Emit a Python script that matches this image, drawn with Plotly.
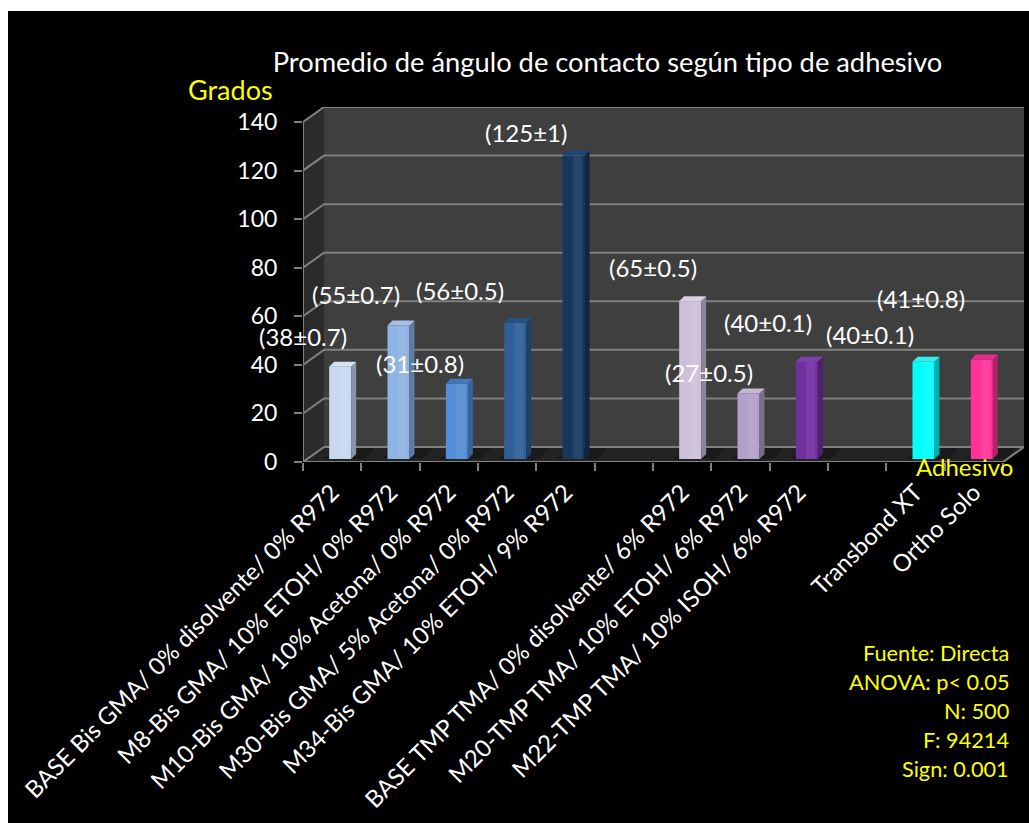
import plotly.graph_objects as go

# Contact angle per adhesive; slots 6 and 10 stay empty to separate the groups
categories = [
    "BASE Bis GMA/ 0% disolvente/ 0% R972",
    "M8-Bis GMA/ 10% ETOH/ 0% R972",
    "M10-Bis GMA/ 10% Acetona/ 0% R972",
    "M30-Bis GMA/ 5% Acetona/ 0% R972",
    "M34-Bis GMA/ 10% ETOH/ 9% R972",
    " ",
    "BASE TMP TMA/ 0% disolvente/ 6% R972",
    "M20-TMP TMA/ 10% ETOH/ 6% R972",
    "M22-TMP TMA/ 10% ISOH/ 6% R972",
    "  ",
    "Transbond XT",
    "Ortho Solo",
]
values = [38, 55, 31, 56, 125, None, 65, 27, 40, None, 40, 41]
errors = ["0.7", "0.7", "0.8", "0.5", "1", None, "0.5", "0.5", "0.1", None, "0.1", "0.8"]
front_colors = ["#C6D9F1", "#8DB4E2", "#538DD5", "#2F5F96", "#17375E", None,
                "#CCC0DA", "#B1A0C7", "#7030A0", None, "#00FFFF", "#FF3399"]
side_colors = ["#8996A8", "#5F7CA3", "#3A6296", "#204268", "#0F2541", None,
               "#8D8597", "#7A6E8B", "#4D216F", None, "#00B0B0", "#B0236A"]
top_colors = ["#D5E2F4", "#A3C2E8", "#4477BE", "#275080", "#1F4575", None,
              "#D8CFE3", "#C3B6D3", "#8040B0", None, "#33EFEF", "#E62B8A"]
y_ticks = [0, 20, 40, 60, 80, 100, 120, 140]

# Label centres in figure pixels, in slot order of the bars that have values
label_px = [(303, 337), (356, 294), (420, 363), (460, 290), (526, 133),
            (653, 268), (709, 372), (768, 323), (870, 334), (921, 299)]
source_notes = ["Fuente: Directa", "ANOVA: p< 0.05", "N: 500", "F: 94214", "Sign: 0.001"]

W, H = 1029, 823
LEFT, RIGHT, BOTTOM, TOP = 303, 1024, 462, 107
SLOTS = 12
YMAX = 140
DEPTH_X = 21 / 58.33        # back wall offset in slot units
DEPTH_Y = 15 / 2.4286       # back wall offset in degrees
BAR_W = 22 / 58.33
BAR_SHIFT_X = 8 / 58.33
BAR_LIFT = 3 / 2.4286
SIDE_X = 5 / 58.33
SIDE_Y = 5 / 2.4286
GRID = "#808080"


def fx(px):
    return px / W


def fy(py):
    return 1 - py / H


def path(points):
    return "M " + " L ".join(f"{x},{y}" for x, y in points) + " Z"


def data_shape(points, fill, line=None, width=0):
    return dict(type="path", xref="x", yref="y", layer="below", path=path(points),
                fillcolor=fill, line=dict(color=line or fill, width=width))


def data_line(points):
    d = "M " + " L ".join(f"{x},{y}" for x, y in points)
    return dict(type="path", xref="x", yref="y", layer="below", path=d,
                line=dict(color=GRID, width=2))


slot_centers = [i + 0.5 for i in range(SLOTS)]
centers = [s + BAR_SHIFT_X for s in slot_centers]

shapes = [
    dict(type="rect", xref="paper", yref="paper", layer="below",
         x0=fx(8), x1=1, y0=0, y1=fy(11), fillcolor="#000000", line=dict(width=0)),
    # Left wall, back wall and floor of the box
    data_shape([(0, 0), (DEPTH_X, DEPTH_Y), (DEPTH_X, YMAX + DEPTH_Y), (0, YMAX)], "#2B2B2B"),
    data_shape([(DEPTH_X, DEPTH_Y), (SLOTS + DEPTH_X, DEPTH_Y),
                (SLOTS + DEPTH_X, YMAX + DEPTH_Y), (DEPTH_X, YMAX + DEPTH_Y)], "#3F3F3F"),
    data_shape([(0, 0), (DEPTH_X, DEPTH_Y), (SLOTS + DEPTH_X, DEPTH_Y), (SLOTS, 0)], "#232323"),
]

# Soft contact shadows on the floor
for c, v in zip(centers, values):
    if v is None:
        continue
    shapes.append(data_shape([(c - 0.3, BAR_LIFT), (c - 0.02, DEPTH_Y), (c + 0.6, DEPTH_Y),
                              (c + 0.42, BAR_LIFT)], "#1A1A1A"))

for t in y_ticks:
    shapes.append(data_line([(0, t), (DEPTH_X, t + DEPTH_Y), (SLOTS + DEPTH_X, t + DEPTH_Y)]))
shapes.append(data_line([(0, 0), (0, YMAX)]))
shapes.append(data_line([(SLOTS, 0), (0, 0)]))
shapes.append(data_line([(SLOTS, 0), (SLOTS + DEPTH_X, DEPTH_Y)]))

fig = go.Figure()
fig.add_trace(go.Bar(
    x=centers, y=values, base=BAR_LIFT, width=BAR_W,
    marker=dict(color=[c or "rgba(0,0,0,0)" for c in front_colors], line=dict(width=0)),
    hoverinfo="skip", showlegend=False,
))
# Lighter strip along the right part of each front face
fig.add_trace(go.Bar(
    x=[c + BAR_W * 0.18 for c in centers], y=values, base=BAR_LIFT, width=BAR_W * 0.42,
    marker=dict(color="rgba(255,255,255,0.07)", line=dict(width=0)),
    hoverinfo="skip", showlegend=False,
))

# Side and top faces of each bar, extruded from its value
for c, v, side, top in zip(centers, values, side_colors, top_colors):
    if v is None:
        continue
    right = c + BAR_W / 2
    left = c - BAR_W / 2
    height = v + BAR_LIFT
    fig.add_trace(go.Scatter(
        x=[right, right + SIDE_X, right + SIDE_X, right],
        y=[BAR_LIFT, BAR_LIFT + SIDE_Y, height + SIDE_Y, height],
        mode="lines", fill="toself", fillcolor=side, line=dict(width=0, color=side),
        hoverinfo="skip", showlegend=False, cliponaxis=False,
    ))
    fig.add_trace(go.Scatter(
        x=[left, left + SIDE_X, right + SIDE_X, right],
        y=[height, height + SIDE_Y, height + SIDE_Y, height],
        mode="lines", fill="toself", fillcolor=top, line=dict(width=0, color=top),
        hoverinfo="skip", showlegend=False, cliponaxis=False,
    ))

annotations = []
pairs = [(v, e) for v, e in zip(values, errors) if v is not None]
for (v, e), (px, py) in zip(pairs, label_px):
    annotations.append(dict(
        text=f"({v}±{e})", xref="paper", yref="paper", x=fx(px), y=fy(py),
        xanchor="center", yanchor="middle", showarrow=False,
        font=dict(family="Lato", size=24, color="#FFFFFF"),
    ))

annotations.append(dict(text="Grados", xref="paper", yref="paper", x=fx(230), y=fy(90),
                        xanchor="center", yanchor="middle", showarrow=False,
                        font=dict(family="Lato", size=27, color="#FFFF00")))
annotations.append(dict(text="Adhesivo", xref="paper", yref="paper", x=fx(964), y=fy(466),
                        xanchor="center", yanchor="middle", showarrow=False,
                        font=dict(family="Lato", size=24, color="#FFFF00")))
for i, note in enumerate(source_notes):
    annotations.append(dict(text=note, xref="paper", yref="paper", x=fx(1011), y=fy(653 + 29 * i),
                            xanchor="right", yanchor="middle", showarrow=False,
                            font=dict(family="Lato", size=21.7, color="#FFFF00")))

fig.update_layout(
    width=W, height=H, autosize=False,
    margin=dict(l=0, r=0, t=0, b=0, autoexpand=False),
    paper_bgcolor="#FFFFFF", plot_bgcolor="rgba(0,0,0,0)",
    title=dict(text="Promedio de ángulo de contacto según tipo de adhesivo",
               x=607.5 / W, y=fy(62), xanchor="center", yanchor="middle", xref="paper", yref="paper",
               font=dict(family="Lato", size=27.3, color="#FFFFFF")),
    shapes=shapes, annotations=annotations, showlegend=False, barmode="overlay",
    xaxis=dict(
        automargin=False,
        domain=[fx(LEFT), fx(RIGHT)], range=[0, SLOTS + DEPTH_X], showgrid=False, zeroline=False,
        tickmode="array", tickvals=slot_centers, ticktext=categories,
        tickangle=-45, ticks="", ticklabelstandoff=11,
        tickfont=dict(family="Lato", size=23.8, color="#FFFFFF"),
        minor=dict(ticks="outside", tickmode="array", tickvals=list(range(SLOTS + 1)),
                   ticklen=8, tickwidth=2, tickcolor=GRID, showgrid=False),
    ),
    yaxis=dict(
        automargin=False,
        domain=[fy(BOTTOM), fy(TOP)], range=[0, YMAX + DEPTH_Y], showgrid=False, zeroline=False,
        tickmode="array", tickvals=y_ticks, ticks="outside", ticklen=8, tickwidth=2,
        tickcolor=GRID, ticklabelstandoff=12,
        tickfont=dict(family="Lato", size=23, color="#FFFFFF"),
    ),
)

fig.write_html("out.html")
